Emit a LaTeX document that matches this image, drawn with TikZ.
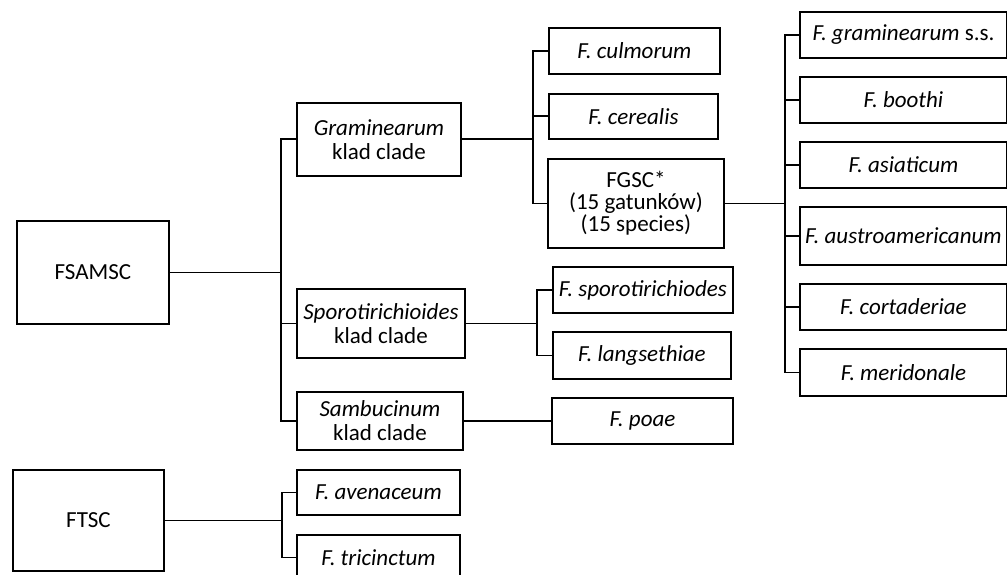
\documentclass[tikz,border=0pt]{standalone}
\usepackage{fontspec}
\setmainfont{Carlito}
\begin{document}
\begin{tikzpicture}[x=1pt,y=-1pt,
  box/.style={draw, line width=1.9pt, inner sep=0pt, align=center, anchor=north west,
    font=\fontsize{23}{24}\selectfont},
  conn/.style={line width=1.9pt}]
\useasboundingbox (0,0) rectangle (1007,575);
% buses
\coordinate (b1) at (281,0);
\coordinate (b2) at (533,0);
\coordinate (b3) at (785,0);
\coordinate (b4) at (537,0);
\coordinate (b5) at (282,0);
% level 0
\node[box, minimum width=152, minimum height=103] (fsamsc) at (16,220) {FSAMSC};
\node[box, minimum width=151, minimum height=101] (ftsc) at (12,469) {FTSC};
% clades
\node[box, minimum width=164, minimum height=73] (gram) at (296,102) {\textit{Graminearum}\\klad clade};
\node[box, minimum width=168, minimum height=69] (sporo) at (296,288) {\textit{Sporotirichioides}\\klad clade};
\node[box, minimum width=166, minimum height=58] (samb) at (296,391) {\textit{Sambucinum}\\klad clade};
% species
\node[box, minimum width=171, minimum height=46] (culm) at (548,27) {\textit{F. culmorum}};
\node[box, minimum width=169, minimum height=45] (cere) at (548,93) {\textit{F. cerealis}};
\node[box, minimum width=176, minimum height=89, font=\fontsize{23}{22}\selectfont] (fgsc) at (547,158) {FGSC*\\(15 gatunków)\\(15 species)};
\node[box, minimum width=180, minimum height=46] (spor2) at (552,266) {\textit{F. sporotirichiodes}};
\node[box, minimum width=178, minimum height=47] (lang) at (552,331) {\textit{F. langsethiae}};
\node[box, minimum width=181, minimum height=46] (poae) at (551,397) {\textit{F. poae}};
\node[box, minimum width=163, minimum height=45] (aven) at (296,469) {\textit{F. avenaceum}};
\node[box, minimum width=163, minimum height=45] (tric) at (296,534) {\textit{F. tricinctum}};
% FGSC members
\node[box, minimum width=207, minimum height=46] (g1) at (799,11) {\textit{F. graminearum} s.s.};
\node[box, minimum width=207, minimum height=46] (g2) at (799,76) {\textit{F. boothi}};
\node[box, minimum width=207, minimum height=46] (g3) at (799,141) {\textit{F. asiaticum}};
\node[box, minimum width=207, minimum height=58] (g4) at (799,206) {\textit{F. austroamericanum}};
\node[box, minimum width=207, minimum height=46] (g5) at (799,283) {\textit{F. cortaderiae}};
\node[box, minimum width=207, minimum height=47] (g6) at (799,348) {\textit{F. meridonale}};
% connectors
\foreach \c in {gram,sporo,samb}
  \draw[conn] (fsamsc.east) -- (fsamsc.east -| b1) |- (\c.west);
\foreach \c in {culm,cere,fgsc}
  \draw[conn] (gram.east) -- (gram.east -| b2) |- (\c.west);
\foreach \c in {g1,g2,g3,g4,g5,g6}
  \draw[conn] (fgsc.east) -- (fgsc.east -| b3) |- (\c.west);
\foreach \c in {spor2,lang}
  \draw[conn] (sporo.east) -- (sporo.east -| b4) |- (\c.west);
\draw[conn] (samb.east) -- (poae.west);
\foreach \c in {aven,tric}
  \draw[conn] (ftsc.east) -- (ftsc.east -| b5) |- (\c.west);
\end{tikzpicture}
\end{document}
